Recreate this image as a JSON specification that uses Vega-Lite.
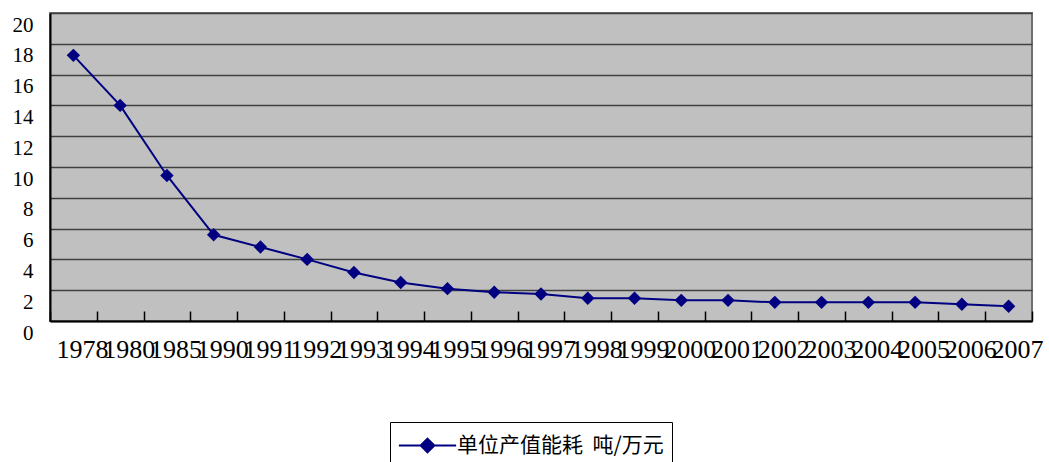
{
  "$schema": "https://vega.github.io/schema/vega-lite/v6.json",
  "width": 982,
  "height": 308,
  "autosize": {"type": "none"},
  "padding": {"left": 50, "top": 13, "right": 17, "bottom": 141},
  "background": "white",
  "config": {
    "view": {"fill": "#C0C0C0", "stroke": "#707070", "strokeWidth": 2},
    "font": "Liberation Serif"
  },
  "data": {
    "values": [
      {"year": "1978", "value": 17.25, "series": "单位产值能耗  吨/万元"},
      {"year": "1980", "value": 14.0, "series": "单位产值能耗  吨/万元"},
      {"year": "1985", "value": 9.45, "series": "单位产值能耗  吨/万元"},
      {"year": "1990", "value": 5.6, "series": "单位产值能耗  吨/万元"},
      {"year": "1991", "value": 4.8, "series": "单位产值能耗  吨/万元"},
      {"year": "1992", "value": 4.0, "series": "单位产值能耗  吨/万元"},
      {"year": "1993", "value": 3.15, "series": "单位产值能耗  吨/万元"},
      {"year": "1994", "value": 2.5, "series": "单位产值能耗  吨/万元"},
      {"year": "1995", "value": 2.1, "series": "单位产值能耗  吨/万元"},
      {"year": "1996", "value": 1.87, "series": "单位产值能耗  吨/万元"},
      {"year": "1997", "value": 1.75, "series": "单位产值能耗  吨/万元"},
      {"year": "1998", "value": 1.48, "series": "单位产值能耗  吨/万元"},
      {"year": "1999", "value": 1.48, "series": "单位产值能耗  吨/万元"},
      {"year": "2000", "value": 1.34, "series": "单位产值能耗  吨/万元"},
      {"year": "2001", "value": 1.34, "series": "单位产值能耗  吨/万元"},
      {"year": "2002", "value": 1.21, "series": "单位产值能耗  吨/万元"},
      {"year": "2003", "value": 1.21, "series": "单位产值能耗  吨/万元"},
      {"year": "2004", "value": 1.21, "series": "单位产值能耗  吨/万元"},
      {"year": "2005", "value": 1.21, "series": "单位产值能耗  吨/万元"},
      {"year": "2006", "value": 1.09, "series": "单位产值能耗  吨/万元"},
      {"year": "2007", "value": 0.96, "series": "单位产值能耗  吨/万元"}
    ]
  },
  "resolve": {"axis": {"x": "independent"}},
  "layer": [
    {
      "mark": {"type": "point", "opacity": 0},
      "encoding": {
        "x": {
          "field": "year",
          "type": "ordinal",
          "sort": null,
          "bandPosition": 0.5,
          "scale": {"type": "band", "paddingInner": 0, "paddingOuter": 0},
          "axis": {
            "orient": "bottom",
            "title": null,
            "labels": false,
            "domain": false,
            "grid": false,
            "tickBand": "extent",
            "ticks": true,
            "tickSize": 10,
            "tickColor": "#000000",
            "tickWidth": 1.5,
            "offset": -10
          }
        },
        "y": {
          "field": "value",
          "type": "quantitative",
          "scale": {"domain": [0, 20], "nice": false},
          "axis": {
            "title": null,
            "values": [0, 2, 4, 6, 8, 10, 12, 14, 16, 18, 20],
            "labelFont": "Liberation Serif",
            "labelFontSize": 21,
            "labelColor": "#000000",
            "labelOffset": 12,
            "labelPadding": 17,
            "ticks": false,
            "domainColor": "#000000",
            "domainWidth": 2,
            "grid": true,
            "gridColor": "#404040",
            "gridWidth": 1.5
          }
        }
      }
    },
    {
      "mark": {
        "type": "line",
        "strokeWidth": 2,
        "point": {"shape": "diamond", "filled": true, "size": 180, "opacity": 1}
      },
      "encoding": {
        "x": {
          "field": "year",
          "type": "ordinal",
          "sort": null,
          "bandPosition": 0.5,
          "scale": {"type": "band", "paddingInner": 0, "paddingOuter": 0},
          "axis": {
            "orient": "bottom",
            "title": null,
            "labelAngle": 0,
            "labelOverlap": false,
            "labelFont": "Liberation Serif",
            "labelFontSize": 26,
            "labelColor": "#000000",
            "labelPadding": 15,
            "labelOffset": 9,
            "labelBaseline": "top",
            "ticks": false,
            "domainColor": "#000000",
            "domainWidth": 2,
            "grid": false
          }
        },
        "y": {
          "field": "value",
          "type": "quantitative",
          "scale": {"domain": [0, 20], "nice": false},
          "axis": {
            "title": null,
            "values": [0, 2, 4, 6, 8, 10, 12, 14, 16, 18, 20],
            "labelFont": "Liberation Serif",
            "labelFontSize": 21,
            "labelColor": "#000000",
            "labelOffset": 12,
            "labelPadding": 17,
            "ticks": false,
            "domainColor": "#000000",
            "domainWidth": 2,
            "grid": true,
            "gridColor": "#404040",
            "gridWidth": 1.5
          }
        },
        "color": {
          "field": "series",
          "type": "nominal",
          "scale": {"range": ["#000080"]},
          "legend": {
            "title": null,
            "orient": "none",
            "legendX": 340,
            "legendY": 409,
            "strokeColor": "#000000",
            "padding": 8,
            "symbolType": "M-2,0H2M0,-0.48L0.48,0L0,0.48L-0.48,0Z",
            "symbolSize": 820,
            "symbolOffset": 14,
            "symbolStrokeWidth": 2,
            "symbolFillColor": "#000080",
            "symbolStrokeColor": "#000080",
            "labelFont": "Noto Sans CJK SC",
            "labelFontSize": 21,
            "labelLimit": 400,
            "labelColor": "#000000",
            "labelOffset": 14,
            "labelBaseline": "middle",
            "labelExpr": "replace(datum.label, '  ', '\u00a0\u00a0')"
          }
        }
      }
    }
  ]
}
